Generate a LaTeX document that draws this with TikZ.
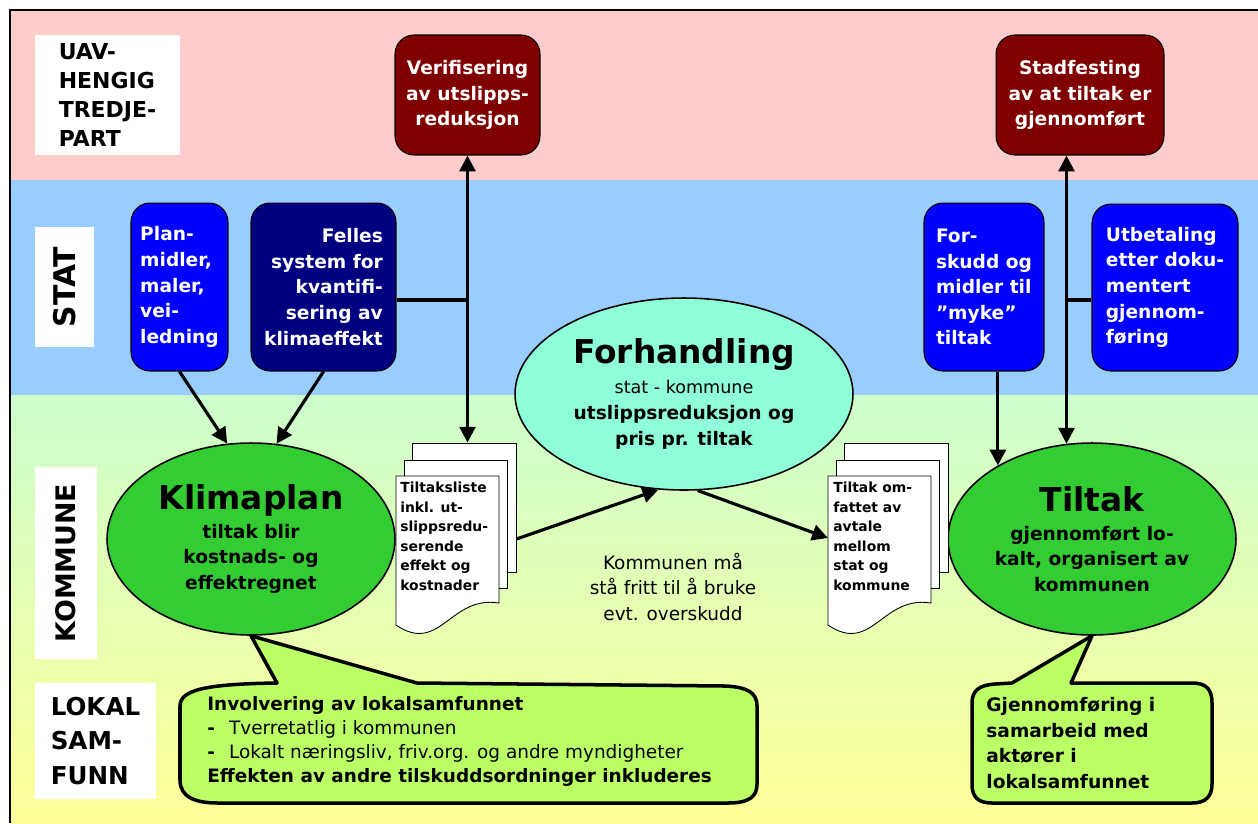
\documentclass[tikz,border=0pt]{standalone}
\usepackage{fontspec}
\setmainfont{DejaVu Sans}
\usetikzlibrary{arrows.meta,shapes.geometric}

\definecolor{rosa}{HTML}{FFCCCC}
\definecolor{himmel}{HTML}{99CCFF}
\definecolor{lysgronn}{HTML}{CCFFCC}
\definecolor{lysgul}{HTML}{FFFF99}
\definecolor{morkerod}{HTML}{800000}
\definecolor{marine}{HTML}{000080}
\definecolor{klarblaa}{HTML}{0000FF}
\definecolor{gress}{HTML}{33CC33}
\definecolor{mint}{HTML}{8FFFD8}
\definecolor{lime}{HTML}{BBFF66}

\newcommand{\hoved}{\fontsize{10.6}{14.6}\selectfont\bfseries}
\newcommand{\stor}{\fontsize{18.7}{22}\selectfont\bfseries}
\newcommand{\vanlig}{\fontsize{10.5}{13.6}\selectfont\mdseries}
\newcommand{\arkfont}{\fontsize{7.9}{11.1}\selectfont\bfseries}

\tikzset{
  etikett/.style={rectangle, fill=white, inner sep=0pt, align=left},
  boks/.style={rectangle, rounded corners=0.38cm, draw=black, line width=0.6pt,
    text=white, font=\hoved, align=left, inner sep=0pt},
  oval/.style={ellipse, draw=black, line width=0.9pt, inner sep=0pt,
    align=center, font=\hoved},
  ark/.style={rectangle, draw=black, fill=white, line width=0.5pt, inner sep=0pt},
  arkkant/.style={draw=black, fill=white, line width=0.5pt},
  arktekst/.style={font=\arkfont, align=left, inner sep=0pt},
  boble/.style={draw=black, fill=lime, line width=2pt, line join=round},
  linje/.style={line width=1.8pt},
  pil/.style={line width=1.8pt, -{Triangle[length=9pt,width=9pt]}},
  dobbelpil/.style={line width=1.8pt,
    {Triangle[length=9pt,width=9pt]}-{Triangle[length=9pt,width=9pt]}}
}

\begin{document}
\begin{tikzpicture}[x=0.02cm, y=-0.02cm]
  \useasboundingbox (0,0) rectangle (1258,823);
  \fill[white] (0,0) rectangle (1258,823);
  % Bakgrunn: tre nivåer
  \fill[rosa] (10,10) rectangle (1258,180);
  \fill[himmel] (10,180) rectangle (1258,395);
  \shade[top color=lysgronn, bottom color=lysgul] (10,395) rectangle (1258,823);
  \draw[line width=0.6pt] (1258,10) -- (10,10) -- (10,823);
  % Nivåetiketter
  \node[etikett, minimum width=2.9cm, minimum height=2.4cm,
    font=\fontsize{12.5}{16.4}\selectfont\bfseries] (uav) at (107.5,95)
    {UAV-\\HENGIG\\TREDJE-\\PART};
  \node[etikett, rotate=90, minimum width=2.4cm, minimum height=1.18cm,
    font=\fontsize{17}{20}\selectfont\bfseries] (stat) at (64.5,287) {STAT};
  \node[etikett, rotate=90, minimum width=3.84cm, minimum height=1.24cm,
    font=\fontsize{15.3}{18}\selectfont\bfseries] (kom) at (66,563) {KOMMUNE};
  \node[etikett, minimum width=2.42cm, minimum height=2.32cm,
    font=\fontsize{14}{19.6}\selectfont\bfseries] (lokal) at (95.5,741)
    {LOKAL\\SAM-\\FUNN};
  % Tredjepart
  \node[boks, fill=morkerod, align=center, minimum width=2.9cm, minimum height=2.4cm]
    (verif) at (467.5,95) {Verifisering\\av utslipps-\\reduksjon};
  \node[boks, fill=morkerod, align=center, minimum width=3.36cm, minimum height=2.4cm]
    (stad) at (1080,95) {Stadfesting\\av at tiltak er\\gjennomført};
  % Stat
  \node[boks, fill=klarblaa, minimum width=1.94cm, minimum height=3.36cm]
    (plan) at (179.5,287) {Plan-\\midler,\\maler,\\vei-\\ledning};
  \node[boks, fill=marine, align=right, minimum width=2.9cm, minimum height=3.36cm]
    (felles) at (323.5,287) {Felles\\system for\\kvantifi-\\sering av\\klimaeffekt};
  \node[boks, fill=klarblaa, minimum width=2.4cm, minimum height=3.36cm]
    (forsk) at (984,287) {For-\\skudd og\\midler til\\”myke”\\tiltak};
  \node[boks, fill=klarblaa, minimum width=2.92cm, minimum height=3.34cm]
    (utb) at (1165,287.5) {Utbetaling\\etter doku-\\mentert\\gjennom-\\føring};
  % Ellipsene
  \node[oval, fill=gress, minimum width=5.76cm, minimum height=3.84cm] (klima)
    at (251,539) {{\stor Klimaplan}\\[1.7pt]tiltak blir\\kostnads- og\\effektregnet};
  \node[oval, fill=mint, minimum width=6.76cm, minimum height=3.84cm] (forh)
    at (684,394) {{\stor Forhandling}\\[2.4pt]{\fontsize{10}{14.6}\selectfont\mdseries stat - kommune}\\utslippsreduksjon og\\pris pr. tiltak};
  \node[oval, fill=gress, minimum width=5.76cm, minimum height=3.84cm] (tiltak)
    at (1092,539) {{\stor Tiltak}\\[1.7pt]gjennomført lo-\\kalt, organisert av\\kommunen};
  % Dokumentbunke: tiltaksliste
  \node[ark, minimum width=2.08cm, minimum height=2.58cm] (tlA) at (464,507.5) {};
  \node[ark, minimum width=2.06cm, minimum height=2.56cm] (tlB) at (455.5,524) {};
  \draw[arkkant] (396,476) -- (499,476) -- (499,603)
    .. controls (450,595) and (440,655) .. (396,625) -- cycle;
  \node[arktekst, anchor=north west] (tltekst) at (400,482)
    {Tiltaksliste\\inkl. ut-\\slippsredu-\\serende\\effekt og\\kostnader};
  % Dokumentbunke: avtale
  \node[ark, minimum width=2.08cm, minimum height=2.58cm] (avA) at (896,507.5) {};
  \node[ark, minimum width=2.06cm, minimum height=2.56cm] (avB) at (887.5,524) {};
  \draw[arkkant] (828,476) -- (931,476) -- (931,603)
    .. controls (882,595) and (872,655) .. (828,625) -- cycle;
  \node[arktekst, anchor=north west] (avtekst) at (833,482)
    {Tiltak om-\\fattet av\\avtale\\mellom\\stat og\\kommune};
  \coordinate (avinn) at (828,538);
  % Piler
  \coordinate (vj) at (verif.south |- 0,300);
  \draw[dobbelpil] (verif.south |- tlA.north) -- (verif.south);
  \draw[linje] (felles.east |- vj) -- (vj);
  \draw[pil] (plan.south) -- (klima.104);
  \draw[pil] (felles.south) -- (klima.75);
  \draw[pil] (tlA.east |- 0,539) -- (forh.-105);
  \draw[pil] (forh.-82) -- (avinn);
  \draw[pil] (forsk.south -| tiltak.142) -- (tiltak.142);
  \draw[dobbelpil] (tiltak.105) -- (stad.south -| tiltak.105);
  \coordinate (hj) at (tiltak.105 |- 0,300);
  \draw[linje] (hj) -- (utb.west |- hj);
  % Midttekst
  \node[font=\fontsize{10.5}{14.5}\selectfont, align=center] (fritt) at (673,587)
    {Kommunen må\\stå fritt til å bruke\\evt. overskudd};
  % Snakkebobler
  \draw[boble] (klima.south) -- (277,683)
    .. controls (205,684) and (180,690) .. (180,706) -- (180,780)
    .. controls (180,797) and (195,803) .. (218,803) -- (728,803)
    .. controls (750,803) and (757,796) .. (757,784) -- (757,706)
    .. controls (757,693) and (748,687) .. (725,686) -- (417,683) -- cycle;
  \node[font=\vanlig, align=left, inner sep=0pt, anchor=north west] (invol) at (207,696)
    {\textbf{Involvering av lokalsamfunnet}\\
     \textbf{-}\hspace{8pt}Tverretatlig i kommunen\\
     \textbf{-}\hspace{8pt}Lokalt næringsliv, friv.org. og andre myndigheter\\
     \textbf{Effekten av andre tilskuddsordninger inkluderes}};
  \draw[boble] (tiltak.south) -- (1071,683) -- (1192,683)
    .. controls (1207,683) and (1212,690) .. (1212,703) -- (1212,784)
    .. controls (1212,797) and (1205,803) .. (1192,803) -- (992,803)
    .. controls (978,803) and (972,797) .. (972,784) -- (972,703)
    .. controls (972,690) and (980,685) .. (995,684) -- (1012,683) -- cycle;
  \node[font=\hoved, align=left, inner sep=0pt, anchor=north west] (gjf) at (986,697)
    {Gjennomføring i\\samarbeid med\\aktører i\\lokalsamfunnet};
\end{tikzpicture}
\end{document}
